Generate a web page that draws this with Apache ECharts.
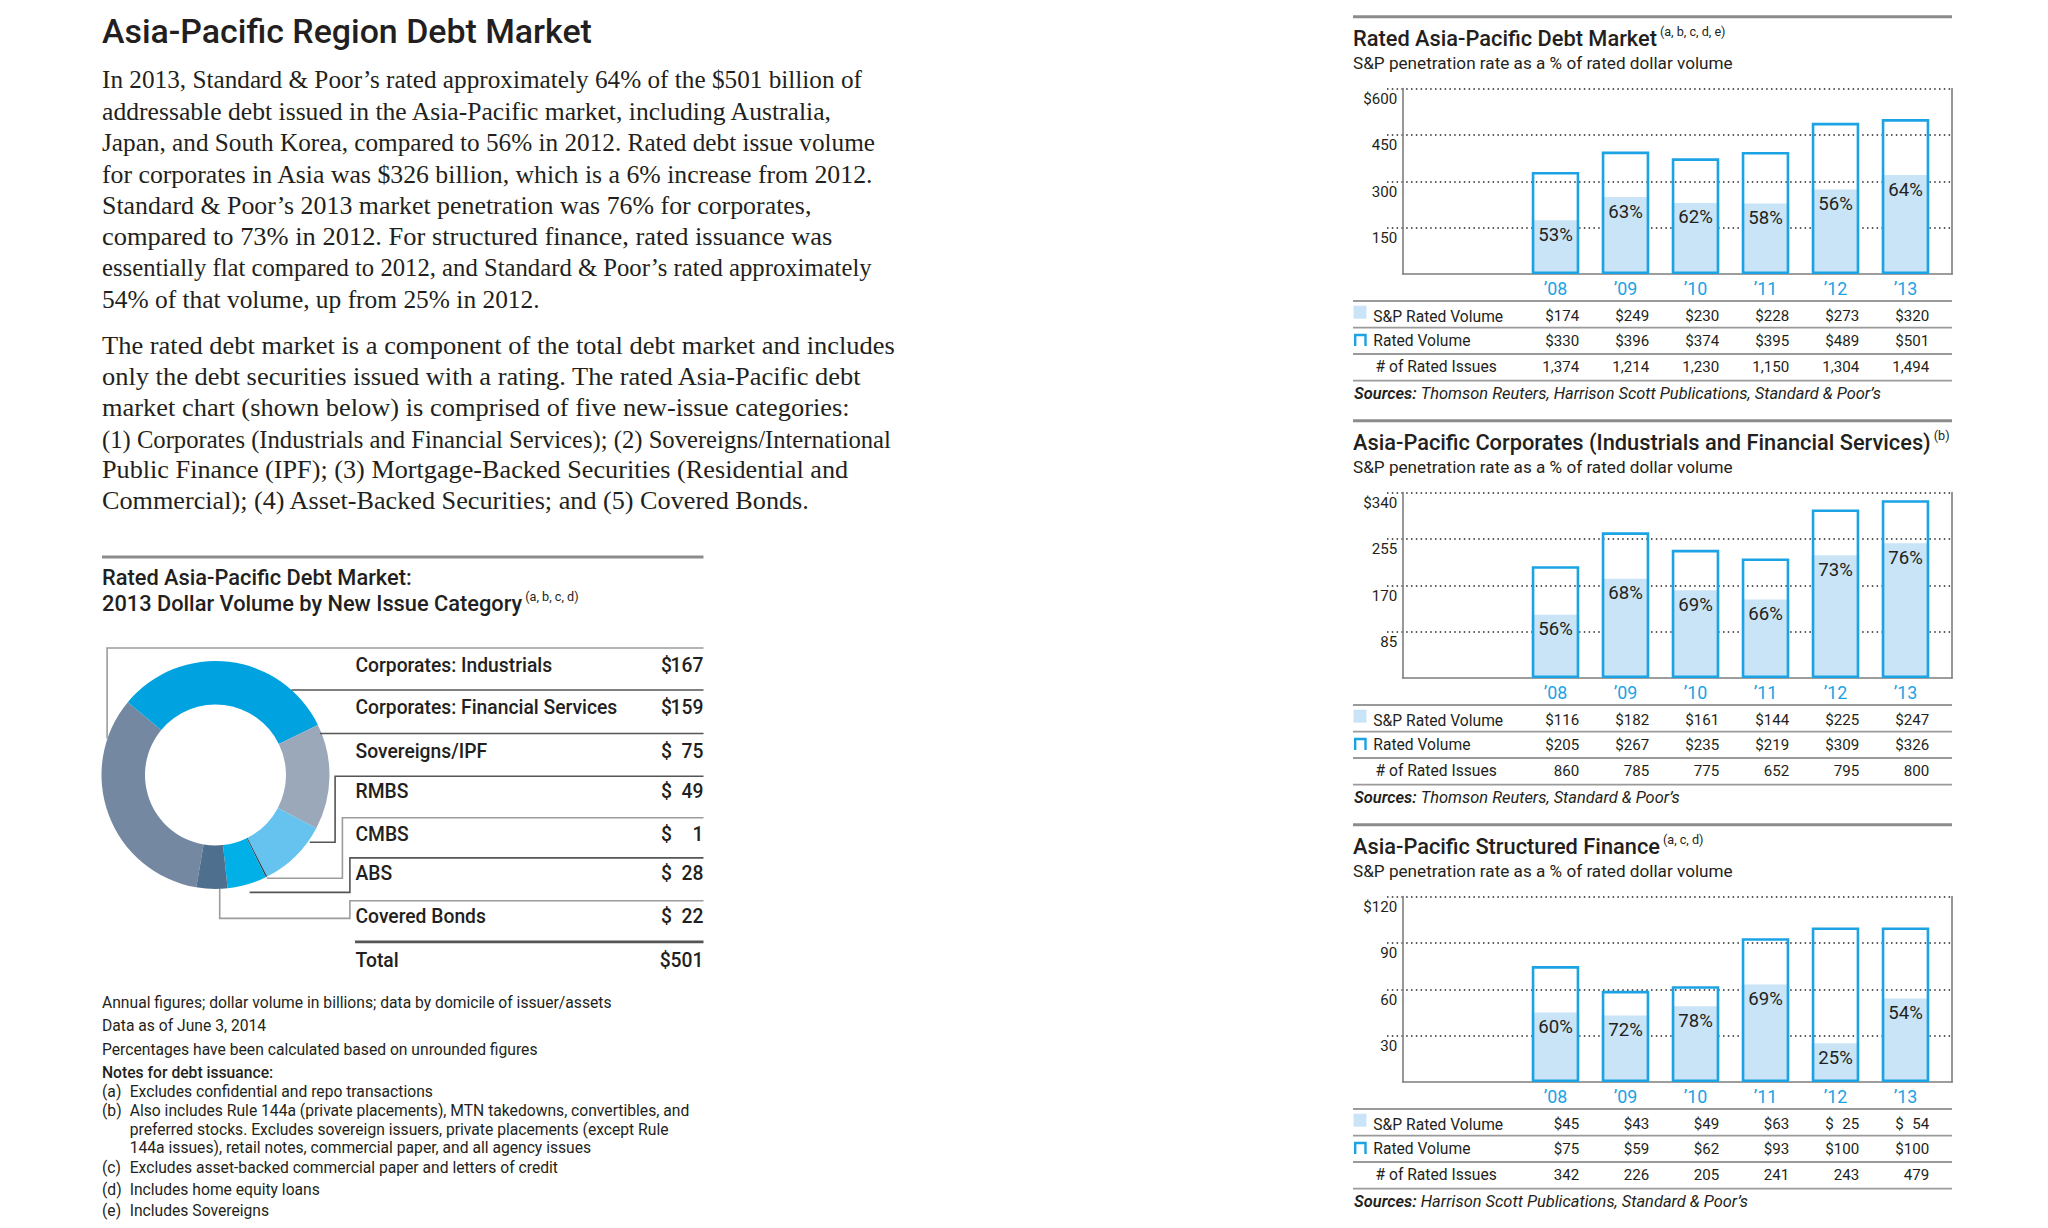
<!DOCTYPE html>
<html>
<head>
<meta charset="utf-8">
<script src="https://cdn.jsdelivr.net/npm/echarts@6/dist/echarts.min.js"></script>
<style>
html,body{margin:0;padding:0;background:#ffffff;}
#c{width:2048px;height:1228px;}
</style>
</head>
<body>
<div id="c"></div>
<script>
// ---------------- DATA ----------------
const years = ['\u201908', '\u201909', '\u201910', '\u201911', '\u201912', '\u201913'];

const totalSpVolume = [174, 249, 230, 228, 273, 320];
const totalRatedVolume = [330, 396, 374, 395, 489, 501];
const totalIssues = [1374, 1214, 1230, 1150, 1304, 1494];
const totalPenetration = [53, 63, 62, 58, 56, 64];

const corpSpVolume = [116, 182, 161, 144, 225, 247];
const corpRatedVolume = [205, 267, 235, 219, 309, 326];
const corpIssues = [860, 785, 775, 652, 795, 800];
const corpPenetration = [56, 68, 69, 66, 73, 76];

const sfSpVolume = [45, 43, 49, 63, 25, 54];
const sfRatedVolume = [75, 59, 62, 93, 100, 100];
const sfIssues = [342, 226, 205, 241, 243, 479];
const sfPenetration = [60, 72, 78, 69, 25, 54];

const axisMaxima = [600, 340, 120];

const issueCategories = ['Corporates: Industrials', 'Corporates: Financial Services', 'Sovereigns/IPF', 'RMBS', 'CMBS', 'ABS', 'Covered Bonds'];
const issueVolumes2013 = [167, 159, 75, 49, 1, 28, 22];
const issueVolumeTotal = 501;

// ---------------- STYLE ----------------
const SANS = 'Roboto, "Liberation Sans", sans-serif';
const SERIF = '"Liberation Serif", serif';
const INK = '#231f20';
const BLUE = '#1ba3e3';
const FILL = '#c9e4f6';
const FRAME = '#7d7d7d';
const RULE = '#8c8c8c';
const pieColors = ['#7588a2', '#00a3e0', '#9aa8ba', '#66c2ee', '#33404f', '#00b0e6', '#4f6f8f'];

const cvs = document.createElement('canvas');
const ctx = cvs.getContext('2d');
function measure(text, size, family, weight, style) {
  ctx.font = (style || 'normal') + ' ' + (weight || 400) + ' ' + size + 'px ' + family;
  return ctx.measureText(text).width;
}
function fit(text, target, family, weight, style) {
  return 100 * target / measure(text, 100, family, weight, style);
}

const S = {
  leftTitle: fit('Asia-Pacific Region Debt Market', 490, SANS, 500),
  chartTitle: fit('Rated Asia-Pacific Debt Market', 304, SANS, 500),
  sub: fit('S&P penetration rate as a % of rated dollar volume', 380, SANS, 400),
  row: fit('S&P Rated Volume', 130, SANS, 400),
  val: fit('$174', 34, SANS, 400),
  axis: fit('$600', 34, SANS, 400),
  pct: fit('64%', 34.5, SANS, 400),
  src: fit('Sources: Thomson Reuters, Harrison Scott Publications, Standard & Poor\u2019s', 526, SANS, 400, 'italic'),
  dTitle: fit('Rated Asia-Pacific Debt Market:', 310, SANS, 500),
  dLabel: fit('Corporates: Financial Services', 262, SANS, 500),
  notes: fit('Annual figures; dollar volume in billions; data by domicile of issuer/assets', 510, SANS, 400)
};
const BODY_SIZE = 25;

// ---------------- GRAPHIC HELPERS ----------------
const G = [];
function txt(x, y, text, size, o) {
  o = o || {};
  const el = {
    type: 'text', x: x, y: y, silent: true, z: 10,
    style: {
      text: text, fontSize: size, fontFamily: o.family || SANS,
      fontWeight: o.weight || 400, fontStyle: o.style || 'normal',
      fill: o.color || INK,
      align: o.align || 'left', textAlign: o.align || 'left',
      verticalAlign: 'middle', textVerticalAlign: 'middle'
    }
  };
  if (o.scaleX) el.scaleX = o.scaleX;
  G.push(el);
}
function poly(points, color, w) {
  G.push({type: 'polyline', silent: true, z: 5, shape: {points: points}, style: {stroke: color, lineWidth: w, fill: null}});
}
function rect(x, y, w, h, color) {
  G.push({type: 'rect', silent: true, z: 5, shape: {x: x, y: y, width: w, height: h}, style: {fill: color}});
}
function titleWithSup(x, y, text, sup, size, weight) {
  txt(x, y, text, size, {weight: weight});
  const w = measure(text, size, SANS, weight);
  txt(x + w + 3, y - size * 0.32, sup, size * 0.58, {});
}

// ---------------- LEFT COLUMN ----------------
txt(102, 31.4, 'Asia-Pacific Region Debt Market', S.leftTitle, {weight: 500});

// paragraph lines with the measured right end of each line in the reference
const para1 = [
  ['In 2013, Standard & Poor\u2019s rated approximately 64% of the $501 billion of', 760.7],
  ['addressable debt issued in the Asia-Pacific market, including Australia,', 731.9],
  ['Japan, and South Korea, compared to 56% in 2012. Rated debt issue volume', 773.7],
  ['for corporates in Asia was $326 billion, which is a 6% increase from 2012.', 772.4],
  ['Standard & Poor\u2019s 2013 market penetration was 76% for corporates,', 709.7],
  ['compared to 73% in 2012. For structured finance, rated issuance was', 730.6],
  ['essentially flat compared to 2012, and Standard & Poor\u2019s rated approximately', 769.8],
  ['54% of that volume, up from 25% in 2012.', 437.8]
];
const para2 = [
  ['The rated debt market is a component of the total debt market and includes', 793.3],
  ['only the debt securities issued with a rating. The rated Asia-Pacific debt', 760.7],
  ['market chart (shown below) is comprised of five new-issue categories:', 747.6],
  ['(1) Corporates (Industrials and Financial Services); (2) Sovereigns/International', 789.4],
  ['Public Finance (IPF); (3) Mortgage-Backed Securities (Residential and', 746.3],
  ['Commercial); (4) Asset-Backed Securities; and (5) Covered Bonds.', 708.4]
];
function bodyLine(l, y) {
  const w = measure(l[0], BODY_SIZE, SERIF, 400);
  txt(102, y, l[0], BODY_SIZE, {family: SERIF, scaleX: l[1] / w});
}
para1.forEach((l, i) => bodyLine(l, 80 + i * 31.3));
para2.forEach((l, i) => bodyLine(l, 346 + i * 31.0));

// donut section
poly([[102, 557], [703.5, 557]], RULE, 3);
txt(102, 577, 'Rated Asia-Pacific Debt Market:', S.dTitle, {weight: 500});
titleWithSup(102, 603, '2013 Dollar Volume by New Issue Category', '(a, b, c, d)', S.dTitle, 500);

const rowY = [665.9, 707.7, 751.2, 791.9, 834.7, 873.2, 916.5];
issueCategories.forEach((c, i) => {
  txt(355.5, rowY[i], c, S.dLabel, {weight: 500});
  txt(661, rowY[i], '$', S.dLabel, {weight: 500});
  txt(703.5, rowY[i], String(issueVolumes2013[i]), S.dLabel, {weight: 500, align: 'right'});
});
txt(355.5, 960.6, 'Total', S.dLabel, {weight: 500});
txt(703.5, 960.6, '$' + issueVolumeTotal, S.dLabel, {weight: 500, align: 'right'});

const DARK = '#555555', LIGHT = '#9c9c9c';
poly([[107.1, 738.4], [107.1, 648], [703.5, 648]], LIGHT, 1.6);
poly([[291.3, 690], [703.5, 690]], DARK, 1.6);
poly([[320, 733.5], [703.5, 733.5]], DARK, 1.6);
poly([[309.7, 842.2], [335.1, 842.2], [335.1, 776.2], [703.5, 776.2]], DARK, 1.6);
poly([[266.7, 878.2], [342.4, 878.2], [342.4, 817.7], [703.5, 817.7]], LIGHT, 1.6);
poly([[249.6, 892.4], [349.9, 892.4], [349.9, 857.9], [703.5, 857.9]], DARK, 1.6);
poly([[219.7, 889], [219.7, 918.4], [349.9, 918.4], [349.9, 900.8], [703.5, 900.8]], LIGHT, 1.6);
poly([[355, 941.9], [703.5, 941.9]], DARK, 2.6);

// notes
const notesTop = [
  'Annual figures; dollar volume in billions; data by domicile of issuer/assets',
  'Data as of June 3, 2014',
  'Percentages have been calculated based on unrounded figures'
];
const notesY = [1002, 1025.7, 1049.3];
notesTop.forEach((l, i) => txt(102, notesY[i], l, S.notes));
txt(102, 1072.9, 'Notes for debt issuance:', S.notes, {weight: 500});
const noteItems = [
  ['(a)', 'Excludes confidential and repo transactions', 1091.2],
  ['(b)', 'Also includes Rule 144a (private placements), MTN takedowns, convertibles, and', 1110.9],
  ['', 'preferred stocks. Excludes sovereign issuers, private placements (except Rule', 1129.2],
  ['', '144a issues), retail notes, commercial paper, and all agency issues', 1147.6],
  ['(c)', 'Excludes asset-backed commercial paper and letters of credit', 1167.2],
  ['(d)', 'Includes home equity loans', 1189.5],
  ['(e)', 'Includes Sovereigns', 1210.4]
];
noteItems.forEach(n => {
  if (n[0]) txt(102, n[2], n[0], S.notes);
  txt(129.7, n[2], n[1], S.notes);
});

// ---------------- RIGHT COLUMN ----------------
const panels = [
  {title: 'Rated Asia-Pacific Debt Market', sup: '(a, b, c, d, e)', src: 'Thomson Reuters, Harrison Scott Publications, Standard & Poor\u2019s',
   sp: totalSpVolume, rated: totalRatedVolume, issues: totalIssues, pct: totalPenetration, max: axisMaxima[0]},
  {title: 'Asia-Pacific Corporates (Industrials and Financial Services)', sup: '(b)', src: 'Thomson Reuters, Standard & Poor\u2019s',
   sp: corpSpVolume, rated: corpRatedVolume, issues: corpIssues, pct: corpPenetration, max: axisMaxima[1]},
  {title: 'Asia-Pacific Structured Finance', sup: '(a, c, d)', src: 'Harrison Scott Publications, Standard & Poor\u2019s',
   sp: sfSpVolume, rated: sfRatedVolume, issues: sfIssues, pct: sfPenetration, max: axisMaxima[2]}
];
const ruleY = [16.7, 420.7, 824.7];
const RX0 = 1353, RX1 = 1952;
const BOX_LEFT = 1387, FRAME_LEFT = 1402.7;
const BAR_W = 47.5;
const SLOT = 70;
const BARS_LEFT = 1520.5;

function dollars(v, ref) {
  const digits = String(ref).length - String(v).length;
  return '$' + (digits > 0 ? '\u2007'.repeat(digits) : '') + v;
}

const grids = [], xAxes = [], yAxes = [], series = [];

panels.forEach((p, k) => {
  const r = ruleY[k];
  const top = r + 71.8, h = 185.5;
  const M = p.max;

  // texts and rules
  poly([[RX0, r], [RX1, r]], RULE, 3);
  titleWithSup(RX0, r + 21.6, p.title, p.sup, S.chartTitle, 500);
  txt(RX0, r + 46.6, 'S&P penetration rate as a % of rated dollar volume', S.sub);
  [284.3, 311, 337.3, 364].forEach(d => poly([[RX0, r + d], [RX1, r + d]], '#9a9a9a', 1.8));
  rect(RX0 + 0.5, r + 289, 13, 13, FILL);
  poly([[RX0 + 2.2, r + 329.3], [RX0 + 2.2, r + 318.3], [RX0 + 12.5, r + 318.3], [RX0 + 12.5, r + 329.3]], BLUE, 2.4);
  txt(1373.3, r + 299.3, 'S&P Rated Volume', S.row);
  txt(1373.3, r + 324, 'Rated Volume', S.row);
  txt(1375.5, r + 350, '# of Rated Issues', S.row);
  const sw = measure('Sources:', S.src, SANS, 600, 'italic');
  txt(RX0 + 1, r + 376.6, 'Sources:', S.src, {weight: 600, style: 'italic'});
  txt(RX0 + 1 + sw + 4, r + 376.6, p.src, S.src, {style: 'italic'});

  const gi = grids.length;
  grids.push({left: BOX_LEFT, top: top, width: RX1 - BOX_LEFT, height: h, outerBoundsMode: 'none'});
  grids.push({left: FRAME_LEFT, top: top, width: RX1 - FRAME_LEFT, height: h, outerBoundsMode: 'none'});
  grids.push({left: BARS_LEFT, top: top, width: SLOT * 6, height: h, outerBoundsMode: 'none'});
  grids.push({left: BARS_LEFT + BAR_W / 2, top: top, width: SLOT * 6, height: h, outerBoundsMode: 'none'});

  // box axes (dotted grid + tick labels)
  xAxes.push({gridIndex: gi, type: 'value', min: 0, max: 1, show: false});
  yAxes.push({gridIndex: gi, type: 'value', min: 0, max: M, interval: M / 4,
    axisLine: {show: false}, axisTick: {show: false},
    axisLabel: {show: true, showMinLabel: false, margin: -10.3, align: 'right', verticalAlign: 'top', padding: [3, 0, 0, 0],
      fontSize: S.axis, fontFamily: SANS, color: INK,
      formatter: v => (v === M ? '$' + v : String(v))},
    splitLine: {show: true, showMinLine: false, lineStyle: {type: [1.5, 3.3], color: '#262626', width: 1.5}}});

  // frame axes
  xAxes.push({gridIndex: gi + 1, type: 'value', min: 0, max: 1,
    axisLine: {show: true, onZero: false, lineStyle: {color: FRAME, width: 1.6}},
    axisTick: {show: false}, axisLabel: {show: false}, splitLine: {show: false}});
  yAxes.push({gridIndex: gi + 1, type: 'value', min: 0, max: 1, position: 'left',
    axisLine: {show: true, onZero: false, lineStyle: {color: FRAME, width: 1.6}},
    axisTick: {show: false}, axisLabel: {show: false}, splitLine: {show: false}});
  yAxes.push({gridIndex: gi + 1, type: 'value', min: 0, max: 1, position: 'right',
    axisLine: {show: true, onZero: false, lineStyle: {color: FRAME, width: 1.6}},
    axisTick: {show: false}, axisLabel: {show: false}, splitLine: {show: false}});

  // bar axes
  const barX = xAxes.length, barY = yAxes.length;
  xAxes.push({gridIndex: gi + 2, type: 'category', data: years,
    axisLine: {show: false}, axisTick: {show: false}, splitLine: {show: false},
    axisLabel: {interval: 0, margin: 14.3, verticalAlign: 'middle', color: BLUE, fontSize: S.val * 1.18, fontFamily: SANS}});
  yAxes.push({gridIndex: gi + 2, type: 'value', min: 0, max: M, show: false, splitLine: {show: false}});

  // table axes: one category axis per table row, aligned with the bars
  const rows = [
    p.sp.map((v, i) => dollars(v, p.rated[i])),
    p.rated.map(v => '$' + v),
    p.issues.map(v => v.toLocaleString('en-US'))
  ];
  const margins = [42, 66.7, 92.7];
  rows.forEach((vals, j) => {
    xAxes.push({gridIndex: gi + 3, type: 'category', data: years, position: 'bottom',
      axisLine: {show: false}, axisTick: {show: false}, splitLine: {show: false},
      axisLabel: {interval: 0, margin: margins[j], align: 'right', verticalAlign: 'middle',
        fontSize: S.val, fontFamily: SANS, color: INK,
        formatter: (v, i) => vals[i]}});
  });
  yAxes.push({gridIndex: gi + 3, type: 'value', min: 0, max: 1, show: false, splitLine: {show: false}});

  series.push({
    type: 'bar', name: 'S&P Rated Volume', xAxisIndex: barX, yAxisIndex: barY,
    data: p.sp, barWidth: BAR_W, z: 2, silent: true,
    itemStyle: {color: FILL},
    label: {show: true, position: 'insideTop', distance: 5, color: INK, fontSize: S.pct, fontFamily: SANS,
      formatter: q => p.pct[q.dataIndex] + '%'}
  });
  series.push({
    type: 'bar', name: 'Rated Volume', xAxisIndex: barX, yAxisIndex: barY,
    data: p.rated, barWidth: BAR_W, barGap: '-100%', z: 3, silent: true,
    itemStyle: {color: 'rgba(255,255,255,0)', borderColor: BLUE, borderWidth: 2.6}
  });
});

// donut
series.push({
  type: 'pie', center: [215.5, 775], radius: [70.5, 114], startAngle: 260.3, clockwise: true,
  silent: true, label: {show: false}, labelLine: {show: false}, emphasis: {disabled: true},
  itemStyle: {borderWidth: 0},
  data: issueCategories.map((c, i) => ({name: c, value: issueVolumes2013[i], itemStyle: {color: pieColors[i]}}))
});

const chart = echarts.init(document.getElementById('c'), null, {renderer: 'svg', width: 2048, height: 1228});
chart.setOption({
  animation: false,
  backgroundColor: '#ffffff',
  textStyle: {fontFamily: SANS},
  tooltip: {show: false},
  grid: grids,
  xAxis: xAxes,
  yAxis: yAxes,
  series: series,
  graphic: {elements: G}
});
</script>
</body>
</html>
